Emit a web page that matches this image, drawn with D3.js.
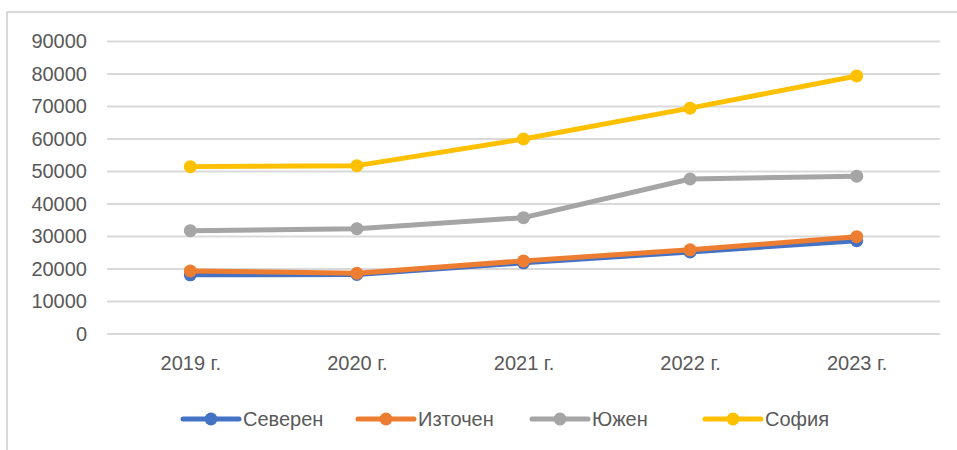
<!DOCTYPE html>
<html><head><meta charset="utf-8">
<script src="https://cdn.jsdelivr.net/npm/d3@7"></script>
<style>
html,body{margin:0;padding:0;background:#fff;}
svg{display:block;}
text{font-family:"Liberation Sans",Arial,sans-serif;fill:#595959;}
</style></head>
<body>
<svg id="chart" width="957" height="450"></svg>
<script>
const categories = ["2019 г.", "2020 г.", "2021 г.", "2022 г.", "2023 г."];
const seriesNames = ["Северен", "Източен", "Южен", "София"];
const severen = [18200, 18300, 21900, 25250, 28700];
const iztochen = [19400, 18700, 22500, 25900, 29950];
const yuzhen = [31800, 32400, 35800, 47700, 48550];
const sofia = [51500, 51800, 60000, 69500, 79400];
const yTicks = [0, 10000, 20000, 30000, 40000, 50000, 60000, 70000, 80000, 90000];
const colors = ["#4472C4", "#ED7D31", "#A5A5A5", "#FFC000"];

const series = [severen, iztochen, yuzhen, sofia].map((vals, i) => ({name: seriesNames[i], values: vals, color: colors[i]}));

const svg = d3.select("#chart");

// outer border
svg.append("rect").attr("x", 7).attr("y", 12).attr("width", 980).attr("height", 460)
  .attr("fill", "none").attr("stroke", "#d9d9d9").attr("stroke-width", 2);

const x = d3.scalePoint().domain(categories).range([107, 940]).padding(0.5);
const y = d3.scaleLinear().domain([0, 90000]).range([334, 41.5]);

// gridlines
svg.append("g").selectAll("line").data(yTicks).join("line")
  .attr("x1", 107).attr("x2", 940)
  .attr("y1", d => y(d)).attr("y2", d => y(d))
  .attr("stroke", "#d9d9d9").attr("stroke-width", 2);

// y axis labels
const yAxis = d3.axisLeft(y).tickValues(yTicks).tickFormat(d3.format("d")).tickSize(0).tickPadding(0);
const gy = svg.append("g").attr("transform", "translate(87,0)").call(yAxis);
gy.select(".domain").remove();
gy.selectAll("text").style("font-size", "20px").attr("fill", "#595959")
  .style("font-family", "'Liberation Sans',Arial,sans-serif");

// x axis labels
const xAxis = d3.axisBottom(x).tickSize(0).tickPadding(0);
const gx = svg.append("g").attr("transform", "translate(0,356)").call(xAxis);
gx.select(".domain").remove();
gx.selectAll("text").style("font-size", "20px").attr("fill", "#595959")
  .style("font-family", "'Liberation Sans',Arial,sans-serif");

const line = d3.line().x((d, i) => x(categories[i])).y(d => y(d));

series.forEach(s => {
  const g = svg.append("g");
  g.append("path").datum(s.values).attr("d", line)
    .attr("fill", "none").attr("stroke", s.color).attr("stroke-width", 5)
    .attr("stroke-linejoin", "round").attr("stroke-linecap", "round");
  g.selectAll("circle").data(s.values).join("circle")
    .attr("cx", (d, i) => x(categories[i])).attr("cy", d => y(d)).attr("r", 6.5)
    .attr("fill", s.color);
});

// legend
const legendX = [183, 358, 532, 705];
const lg = svg.append("g");
series.forEach((s, i) => {
  const g = lg.append("g").attr("transform", `translate(${legendX[i]},419)`);
  g.append("line").attr("x1", 0).attr("x2", 56).attr("y1", 0).attr("y2", 0)
    .attr("stroke", s.color).attr("stroke-width", 5).attr("stroke-linecap", "round");
  g.append("circle").attr("cx", 28).attr("cy", 0).attr("r", 6.5).attr("fill", s.color);
  g.append("text").attr("x", 60).attr("y", 0).attr("dy", "0.35em")
    .style("font-size", "20px").text(s.name);
});
</script>
</body></html>
